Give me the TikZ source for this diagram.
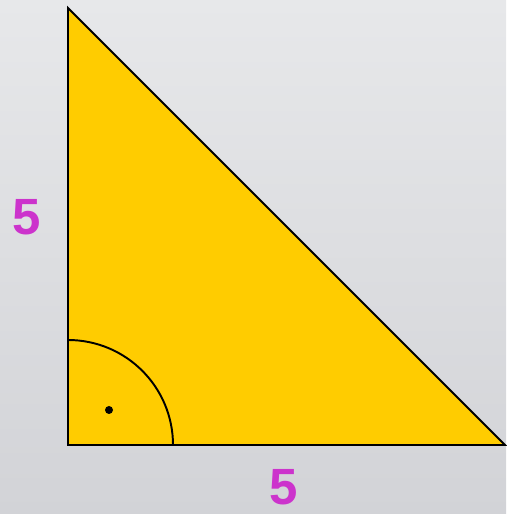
\documentclass[tikz,border=0pt]{standalone}
\usepackage{fontspec}
\setmainfont{Liberation Sans}
\usetikzlibrary{calc}
\definecolor{triyellow}{HTML}{FFCC00}
\definecolor{sidemagenta}{HTML}{CC33CC}
\definecolor{bgtop}{HTML}{E7E8EA}
\definecolor{bgbottom}{HTML}{D2D3D7}
\tikzset{
  % Base styles
  figure base/.style={line join=miter},
  side label/.style={font=\fontsize{29}{29}\selectfont\bfseries, text=sidemagenta, inner sep=0pt},
  triangle face/.style={fill=triyellow, draw=black, line width=1.1pt},
  angle mark/.style={draw=black, line width=1.1pt},
}

\begin{document}
\begin{tikzpicture}[figure base]
% Background
\shade[top color=bgtop, bottom color=bgbottom] (0,0) rectangle (10.12,10.28);
\useasboundingbox (0,0) rectangle (10.12,10.28);

% Corners
\coordinate (A) at (1.36,10.12);
\coordinate (B) at (1.36,1.38);
\coordinate (C) at (10.10,1.38);

% Triangle
\draw[triangle face] (A) -- (B) -- (C) -- cycle;

% Right angle
\draw[angle mark] ($(B)+(2.1,0)$) arc[start angle=0, end angle=90, radius=2.1];
\fill ($(B)+(0.82,0.70)$) circle[radius=0.08];

% Side lengths
\node[side label] (left) at (0.54,5.94) {5};
\node[side label] (bottom) at (5.68,0.54) {5};
\end{tikzpicture}
\end{document}
